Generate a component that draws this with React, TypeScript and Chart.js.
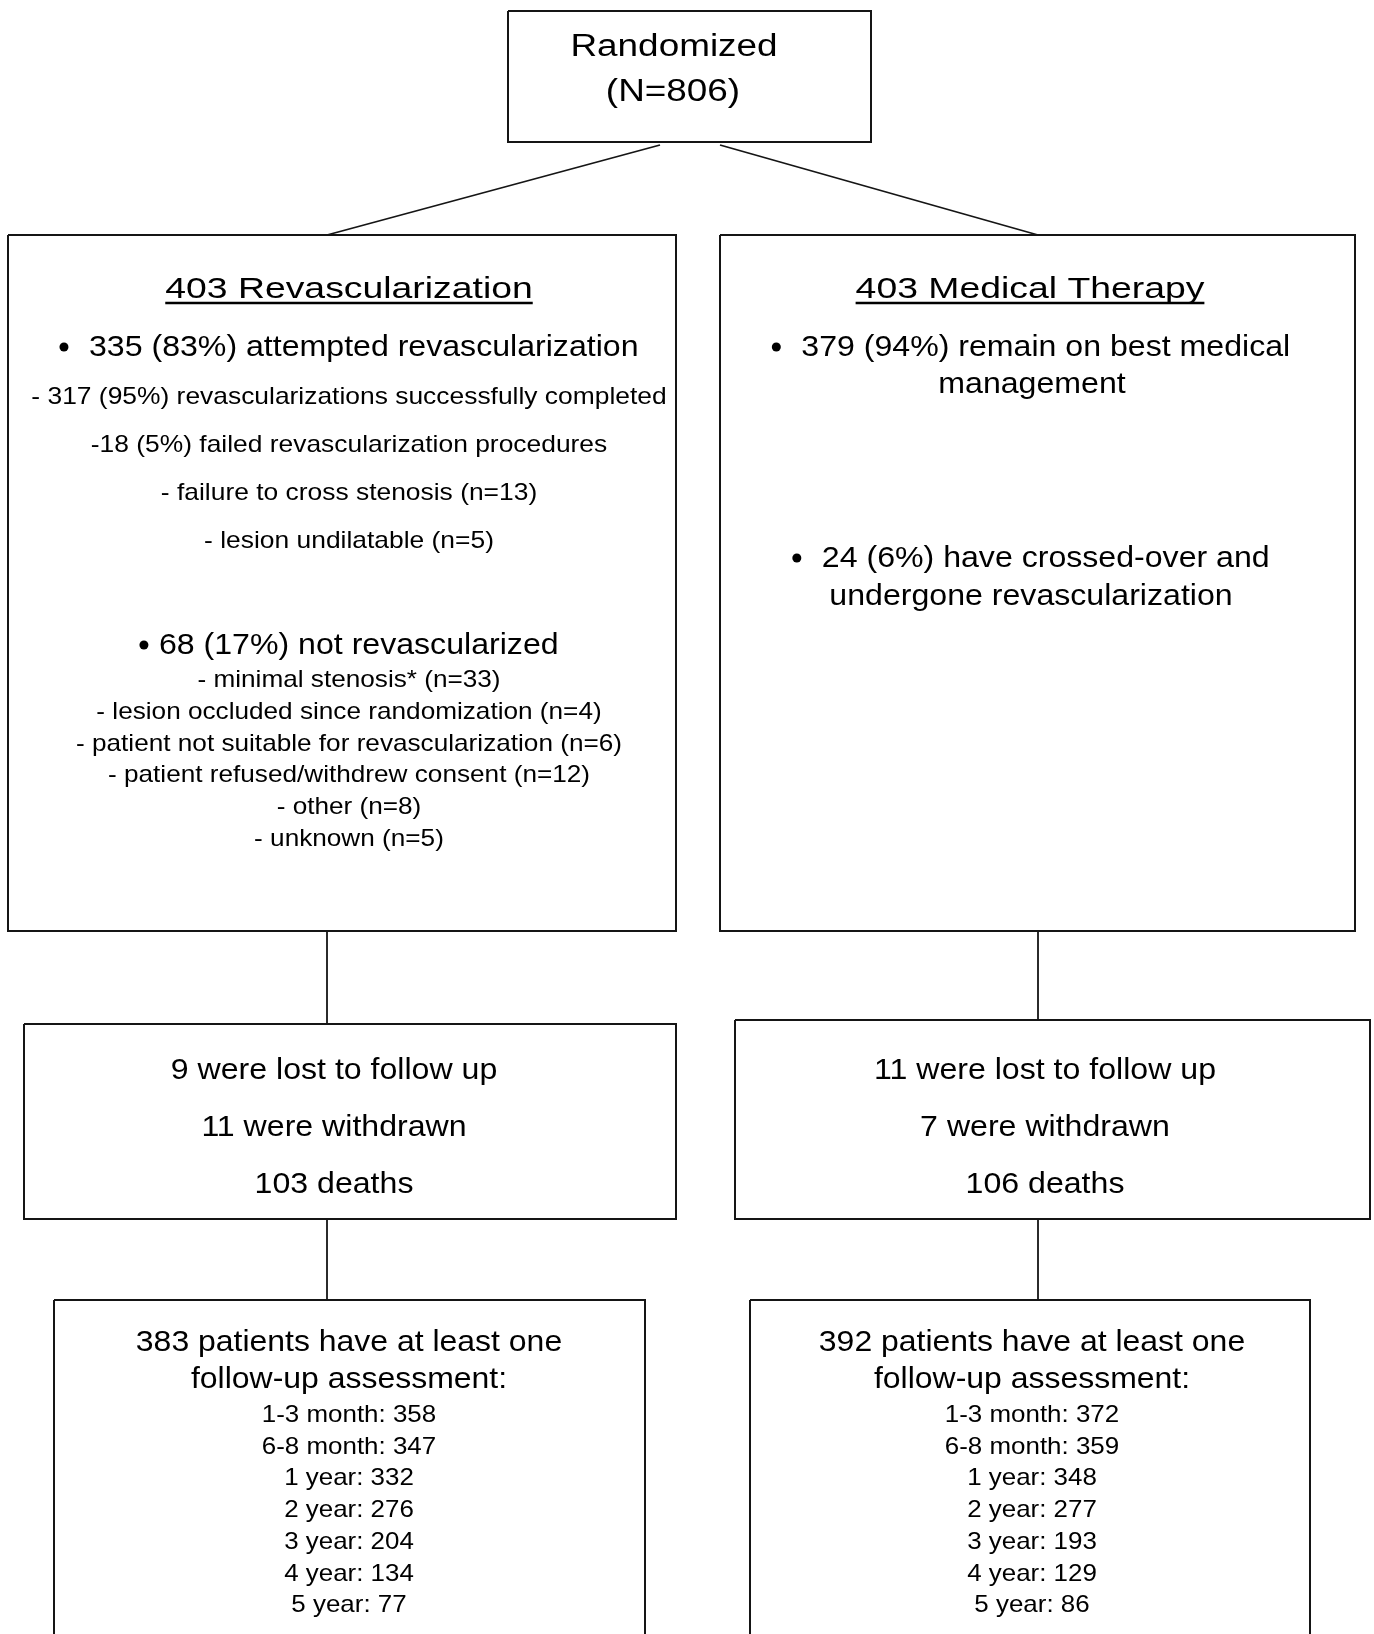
import React, { useEffect, useRef } from "react";
import { Chart, registerables } from "chart.js";

Chart.register(...registerables);

// ---------------- DATA (text content of the flow diagram) ----------------
const RANDOMIZED = ["Randomized", "(N=806)"];
const ARM_TITLES = ["403 Revascularization", "403 Medical Therapy"];

const REVASC_ATTEMPTED = "335 (83%) attempted revascularization";
const REVASC_ATTEMPT_DETAILS = [
  "- 317 (95%) revascularizations successfully completed",
  "-18 (5%) failed revascularization procedures",
  "- failure to cross stenosis (n=13)",
  "- lesion undilatable (n=5)",
];
const REVASC_NOT_DONE = "68 (17%) not revascularized";
const REVASC_NOT_DONE_REASONS = [
  "- minimal stenosis* (n=33)",
  "- lesion occluded since randomization (n=4)",
  "- patient not suitable for revascularization (n=6)",
  "- patient refused/withdrew consent (n=12)",
  "- other (n=8)",
  "- unknown (n=5)",
];

const MED_REMAIN = ["379 (94%) remain on best medical", "management"];
const MED_CROSSED = ["24 (6%) have crossed-over and", "undergone revascularization"];

const REVASC_LOSS = ["9 were lost to follow up", "11 were withdrawn", "103 deaths"];
const MED_LOSS = ["11 were lost to follow up", "7 were withdrawn", "106 deaths"];

const REVASC_ANY_FOLLOWUP = 383;
const MED_ANY_FOLLOWUP = 392;
const FOLLOWUP_PERIODS = ["1-3 month", "6-8 month", "1 year", "2 year", "3 year", "4 year", "5 year"];
const REVASC_FOLLOWUP = [358, 347, 332, 276, 204, 134, 77];
const MED_FOLLOWUP = [372, 359, 348, 277, 193, 129, 86];

// ---------------- LAYOUT (positions / styles, in page pixels) ----------------
const W = 1374;
const H = 1634;
const FONT = '"Liberation Sans", Arial, Helvetica, sans-serif';
const LINE_COLOR = "#151515";

type Box = [number, number, number, number]; // left, top, right, bottom
const BOXES: Box[] = [
  [508, 11, 871, 142],
  [8, 235, 676, 931],
  [720, 235, 1355, 931],
  [24, 1024, 676, 1219],
  [735, 1020, 1370, 1219],
  [54, 1300, 645, 1700],
  [750, 1300, 1310, 1700],
];
const CONNECTORS: [number, number, number, number][] = [
  [660, 145, 327, 235],
  [720, 145, 1038, 235],
  [327, 931, 327, 1024],
  [1038, 931, 1038, 1020],
  [327, 1219, 327, 1300],
  [1038, 1219, 1038, 1300],
];

type TextItem = {
  text: string;
  x: number;
  y: number;
  size: number;
  sx: number;
  bulletGap?: number;
  underline?: boolean;
};

function buildTexts(): TextItem[] {
  const items: TextItem[] = [];
  // Top box
  items.push({ text: RANDOMIZED[0], x: 674, y: 56, size: 31, sx: 1.19 });
  items.push({ text: RANDOMIZED[1], x: 673, y: 101, size: 31, sx: 1.19 });
  // Arm titles
  items.push({ text: ARM_TITLES[0], x: 349, y: 298, size: 30, sx: 1.245, underline: true });
  items.push({ text: ARM_TITLES[1], x: 1030, y: 298, size: 30, sx: 1.245, underline: true });
  // Left big box
  items.push({ text: REVASC_ATTEMPTED, x: 349, y: 356, size: 30, sx: 1.07, bulletGap: 25 });
  REVASC_ATTEMPT_DETAILS.forEach((t, i) =>
    items.push({ text: t, x: 349, y: 404 + i * 48, size: 24, sx: 1.1 })
  );
  items.push({ text: REVASC_NOT_DONE, x: 349, y: 654, size: 30, sx: 1.07, bulletGap: 15 });
  REVASC_NOT_DONE_REASONS.forEach((t, i) =>
    items.push({ text: t, x: 349, y: 687 + i * 31.8, size: 24, sx: 1.09 })
  );
  // Right big box
  items.push({ text: MED_REMAIN[0], x: 1031, y: 356, size: 30, sx: 1.07, bulletGap: 25 });
  items.push({ text: MED_REMAIN[1], x: 1032, y: 393, size: 30, sx: 1.07 });
  items.push({ text: MED_CROSSED[0], x: 1031, y: 567, size: 30, sx: 1.07, bulletGap: 25 });
  items.push({ text: MED_CROSSED[1], x: 1031, y: 605, size: 30, sx: 1.07 });
  // Middle boxes
  REVASC_LOSS.forEach((t, i) => items.push({ text: t, x: 334, y: 1079 + i * 57, size: 30, sx: 1.07 }));
  MED_LOSS.forEach((t, i) => items.push({ text: t, x: 1045, y: 1079 + i * 57, size: 30, sx: 1.07 }));
  // Bottom boxes
  const heads = [
    [REVASC_ANY_FOLLOWUP, 349],
    [MED_ANY_FOLLOWUP, 1032],
  ];
  heads.forEach(([n, x]) => {
    items.push({ text: `${n} patients have at least one`, x, y: 1351, size: 30, sx: 1.065 });
    items.push({ text: "follow-up assessment:", x, y: 1388, size: 30, sx: 1.065 });
  });
  FOLLOWUP_PERIODS.forEach((p, i) => {
    items.push({ text: `${p}: ${REVASC_FOLLOWUP[i]}`, x: 349, y: 1422 + i * 31.7, size: 24, sx: 1.08 });
    items.push({ text: `${p}: ${MED_FOLLOWUP[i]}`, x: 1032, y: 1422 + i * 31.7, size: 24, sx: 1.08 });
  });
  return items;
}

const TEXTS = buildTexts();

const textPlugin = {
  id: "flowText",
  beforeDraw(chart: any) {
    const ctx = chart.ctx;
    ctx.save();
    ctx.fillStyle = "#ffffff";
    ctx.fillRect(0, 0, chart.width, chart.height);
    ctx.restore();
  },
  afterDatasetsDraw(chart: any) {
    const ctx: CanvasRenderingContext2D = chart.ctx;
    const xs = chart.scales.x;
    const ys = chart.scales.y;
    ctx.save();
    ctx.fillStyle = "#000000";
    ctx.strokeStyle = "#000000";
    ctx.textBaseline = "alphabetic";
    for (const it of TEXTS) {
      const px = xs.getPixelForValue(it.x);
      const py = ys.getPixelForValue(it.y);
      ctx.font = `${it.size}px ${FONT}`;
      const w = ctx.measureText(it.text).width * it.sx;
      if (it.bulletGap !== undefined) {
        const r = it.size * 0.15;
        const total = r + it.bulletGap + w;
        const left = px - total / 2;
        const bc = left + r;
        ctx.beginPath();
        ctx.arc(bc, py - it.size * 0.3, r, 0, Math.PI * 2);
        ctx.fill();
        ctx.save();
        ctx.translate(bc + it.bulletGap, py);
        ctx.scale(it.sx, 1);
        ctx.textAlign = "left";
        ctx.fillText(it.text, 0, 0);
        ctx.restore();
      } else {
        ctx.save();
        ctx.translate(px, py);
        ctx.scale(it.sx, 1);
        ctx.textAlign = "center";
        ctx.fillText(it.text, 0, 0);
        ctx.restore();
      }
      if (it.underline) {
        ctx.beginPath();
        ctx.lineWidth = 2.5;
        ctx.moveTo(px - w / 2, py + 5);
        ctx.lineTo(px + w / 2, py + 5);
        ctx.stroke();
      }
    }
    ctx.restore();
  },
};

export default function App() {
  const ref = useRef<HTMLCanvasElement | null>(null);

  useEffect(() => {
    document.body.style.margin = "0";
    const canvas = ref.current;
    if (!canvas) return;

    const datasets: any[] = [];
    BOXES.forEach(([l, t, r, b]) => {
      datasets.push({
        data: [
          { x: l, y: t },
          { x: r, y: t },
          { x: r, y: b },
          { x: l, y: b },
          { x: l, y: t },
        ],
        showLine: true,
        borderColor: LINE_COLOR,
        borderWidth: 2,
        borderJoinStyle: "miter",
        pointRadius: 0,
        fill: false,
        tension: 0,
      });
    });
    CONNECTORS.forEach(([x1, y1, x2, y2]) => {
      datasets.push({
        data: [
          { x: x1, y: y1 },
          { x: x2, y: y2 },
        ],
        showLine: true,
        borderColor: LINE_COLOR,
        borderWidth: 1.8,
        pointRadius: 0,
        fill: false,
      });
    });

    const chart = new Chart(canvas, {
      type: "scatter",
      data: { datasets },
      options: {
        responsive: false,
        maintainAspectRatio: false,
        animation: false,
        devicePixelRatio: 1,
        layout: { padding: 0 },
        events: [],
        plugins: {
          legend: { display: false },
          tooltip: { enabled: false },
          title: { display: false },
        },
        scales: {
          x: { type: "linear", min: 0, max: W, display: false },
          y: { type: "linear", min: 0, max: H, reverse: true, display: false },
        },
      },
      plugins: [textPlugin],
    });
    return () => chart.destroy();
  }, []);

  return (
    <canvas
      ref={ref}
      width={W}
      height={H}
      style={{ display: "block", width: W, height: H }}
    />
  );
}
